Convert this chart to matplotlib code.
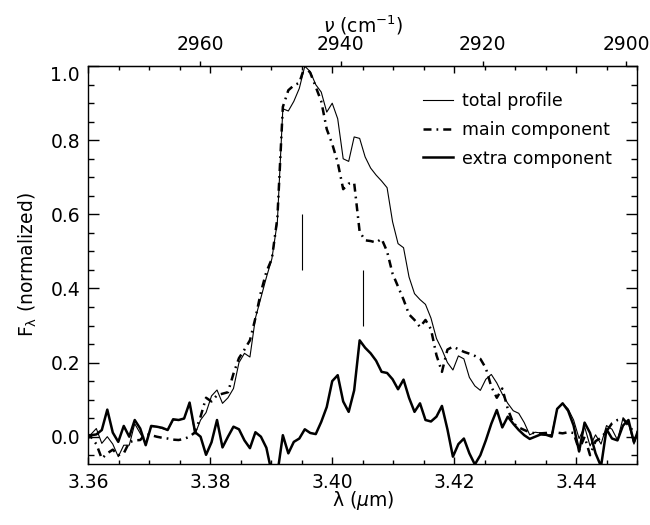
import numpy as np
import matplotlib
matplotlib.use("Agg")
import matplotlib.pyplot as plt

plt.rcParams['font.family'] = ['DejaVu Sans']
plt.rcParams['mathtext.fontset'] = 'dejavusans'

# wavelength grid (micron)
lam = [3.3595, 3.3604, 3.3613, 3.3622, 3.3631, 3.3640, 3.3649, 3.3658, 3.3667, 3.3676,
       3.3685, 3.3694, 3.3703, 3.3712, 3.3721, 3.3730, 3.3739, 3.3748, 3.3757, 3.3766,
       3.3775, 3.3784, 3.3793, 3.3802, 3.3811, 3.3820, 3.3829, 3.3838, 3.3847, 3.3856,
       3.3865, 3.3874, 3.3883, 3.3892, 3.3901, 3.3910, 3.3919, 3.3928, 3.3937, 3.3946,
       3.3955, 3.3964, 3.3973, 3.3982, 3.3991, 3.4000, 3.4009, 3.4018, 3.4027, 3.4036,
       3.4045, 3.4054, 3.4063, 3.4072, 3.4081, 3.4090, 3.4099, 3.4108, 3.4117, 3.4126,
       3.4135, 3.4144, 3.4153, 3.4162, 3.4171, 3.4180, 3.4189, 3.4198, 3.4207, 3.4216,
       3.4225, 3.4234, 3.4243, 3.4252, 3.4261, 3.4270, 3.4279, 3.4288, 3.4297, 3.4306,
       3.4315, 3.4324, 3.4333, 3.4342, 3.4351, 3.4360, 3.4369, 3.4378, 3.4387, 3.4396,
       3.4405, 3.4414, 3.4423, 3.4432, 3.4441, 3.4450, 3.4459, 3.4468, 3.4477, 3.4486,
       3.4495, 3.4504]

total = [0.003, 0.006, 0.022, -0.018, 0.0, -0.02, -0.054, -0.023, -0.023, 0.035,
         0.009, -0.018, 0.027, 0.027, 0.022, 0.018, 0.045, 0.045, 0.049, 0.09,
         0.007, 0.045, 0.065, 0.11, 0.126, 0.09, 0.105, 0.13, 0.2, 0.225,
         0.215, 0.32, 0.375, 0.43, 0.48, 0.58, 0.885, 0.879, 0.905, 0.94,
         1.0, 0.985, 0.95, 0.93, 0.876, 0.9, 0.858, 0.75, 0.743, 0.809,
         0.805, 0.755, 0.725, 0.706, 0.69, 0.672, 0.58, 0.521, 0.51, 0.431,
         0.386, 0.37, 0.357, 0.32, 0.265, 0.235, 0.2, 0.18, 0.218, 0.21,
         0.16, 0.137, 0.125, 0.155, 0.168, 0.145, 0.115, 0.09, 0.07, 0.063,
         0.038, 0.005, 0.012, 0.01, 0.004, 0.006, 0.075, 0.09, 0.075, 0.045,
         -0.005, 0.027, -0.025, 0.005, -0.02, 0.03, 0.02, -0.009, 0.05, 0.035,
         -0.02, 0.02]

main = [-0.005, 0.0, -0.02, -0.059, -0.045, -0.035, -0.05, -0.045, -0.015, -0.01,
        -0.009, 0.008, 0.004, 0.0, -0.003, -0.005, -0.008, -0.009, -0.006, 0.0,
        0.012, 0.054, 0.105, 0.095, 0.112, 0.116, 0.12, 0.17, 0.212, 0.235,
        0.26, 0.32, 0.39, 0.445, 0.48, 0.59, 0.89, 0.935, 0.948, 0.955,
        1.0, 0.982, 0.944, 0.905, 0.83, 0.79, 0.74, 0.668, 0.683, 0.685,
        0.553, 0.53, 0.528, 0.524, 0.534, 0.5, 0.44, 0.405, 0.37, 0.33,
        0.315, 0.296, 0.315, 0.29, 0.22, 0.175, 0.235, 0.243, 0.236, 0.229,
        0.224, 0.218, 0.21, 0.185, 0.135, 0.105, 0.13, 0.075, 0.036, 0.025,
        0.018, 0.012, 0.009, 0.009, 0.01, 0.013, 0.011, 0.009, 0.012, 0.01,
        -0.036, 0.0, -0.05, -0.012, -0.003, 0.015, 0.036, 0.045, 0.049, 0.03,
        0.013, 0.01]

extra = [0.004, 0.004, 0.006, 0.018, 0.073, 0.011, -0.014, 0.029, 0.0, 0.045,
         0.022, -0.023, 0.029, 0.027, 0.024, 0.018, 0.047, 0.045, 0.049, 0.092,
         0.012, 0.0, -0.049, -0.015, 0.045, -0.029, 0.0, 0.027, 0.02, -0.01,
         -0.031, 0.012, 0.0, -0.03, -0.1, -0.1, 0.004, -0.045, -0.014, -0.005,
         0.02, 0.01, 0.007, 0.04, 0.08, 0.15, 0.166, 0.095, 0.067, 0.125,
         0.26, 0.24, 0.225, 0.205, 0.175, 0.172, 0.155, 0.128, 0.154, 0.105,
         0.067, 0.09, 0.045, 0.041, 0.054, 0.083, 0.02, -0.054, -0.02, -0.005,
         -0.045, -0.075, -0.05, -0.01, 0.035, 0.072, 0.025, 0.054, 0.035, 0.018,
         0.004, -0.006, 0.0, 0.006, 0.005, 0.0, 0.075, 0.09, 0.07, 0.03,
         -0.04, 0.038, 0.01, -0.045, -0.08, 0.02, -0.005, -0.01, 0.03, 0.045,
         -0.015, 0.027]

# component position markers
mark_pos = [3.395, 3.405]
mark_lo = [0.45, 0.30]
mark_hi = [0.60, 0.45]

nu_ticks = [2960, 2940, 2920, 2900]

fig = plt.figure(figsize=(6.5, 5.25), dpi=100)
ax = fig.add_axes([0.136, 0.116, 0.844, 0.758])

ax.plot(lam, total, color='black', lw=0.8, label='total profile')
ax.plot(lam, main, color='black', lw=1.8, linestyle=(0, (3.2, 2.0, 0.7, 2.0)),
        label='main component')
ax.plot(lam, extra, color='black', lw=1.8, label='extra component')
ax.vlines(mark_pos, mark_lo, mark_hi, color='black', lw=0.8)

ax.set_xlim(3.36, 3.45)
ax.set_ylim(-0.074, 1.0)
ax.set_xticks([3.36, 3.38, 3.40, 3.42, 3.44])
ax.set_xticks(np.arange(3.36, 3.4501, 0.005), minor=True)
ax.set_yticks([0.0, 0.2, 0.4, 0.6, 0.8, 1.0])
ax.set_yticks(np.arange(-0.05, 1.001, 0.05), minor=True)
ax.set_yticklabels(['0.0', '0.2', '0.4', '0.6', '0.8', '1.0'])
ax.yaxis.get_major_ticks()[-1].label1.set_va('top')

ax.tick_params(axis='x', which='both', direction='in', top=True, bottom=True,
               labelsize=13.5, pad=6.5, width=1)
ax.tick_params(axis='x', which='major', length=5)
ax.tick_params(axis='x', which='minor', length=3)
ax.tick_params(axis='y', which='both', direction='in', left=True, right=True,
               labelsize=13.5, pad=6, width=1)
ax.tick_params(axis='y', which='major', length=8)
ax.tick_params(axis='y', which='minor', length=4.5)
for s in ax.spines.values():
    s.set_linewidth(1.0)

ax.set_xlabel('λ ($\\mu$m)', fontsize=13.5, labelpad=-2)
ax.set_ylabel('F$_{\\mathrm{\\lambda}}$ (normalized)', fontsize=13.5, labelpad=8)

secax = ax.secondary_xaxis('top', functions=(lambda l: 1e4 / l, lambda n: 1e4 / n))
secax.set_xticks(nu_ticks)
secax.minorticks_off()
secax.tick_params(direction='out', length=3.6, width=1, labelsize=13.5, pad=5)
secax.set_xlabel('$\\nu$ (cm$^{-1}$)', fontsize=13.5, labelpad=2)

ax.legend(loc='upper left', bbox_to_anchor=(0.61, 0.935), frameon=False,
          fontsize=12.5, handlelength=1.7, handletextpad=0.55, labelspacing=0.62,
          borderpad=0, borderaxespad=0)

fig.savefig('out.png', dpi=100)
